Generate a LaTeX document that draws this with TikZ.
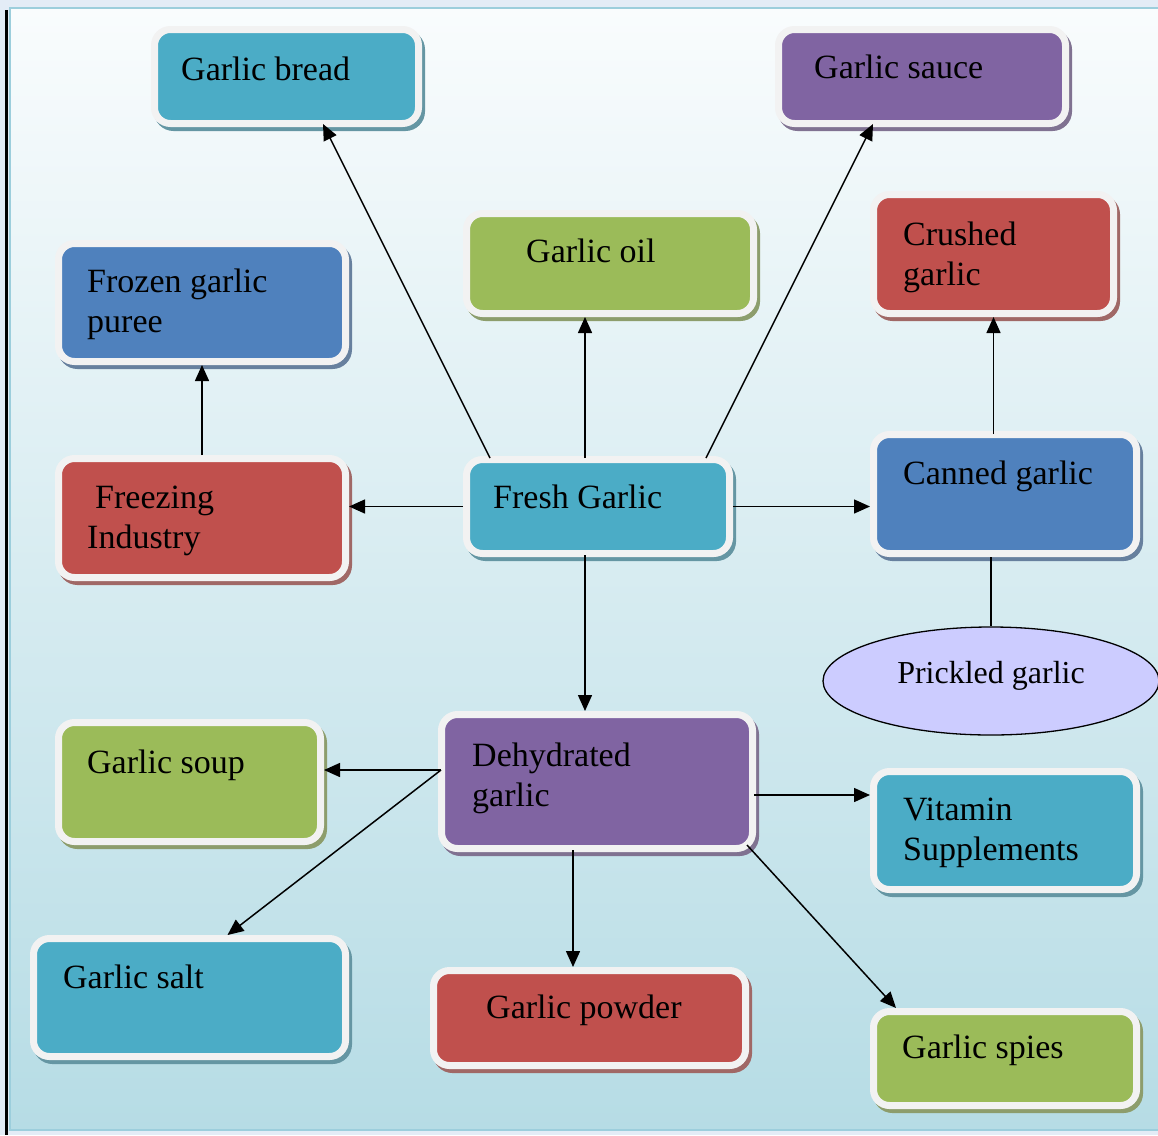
\documentclass[tikz,border=0pt]{standalone}
\usepackage{fontspec}
\setmainfont{Liberation Serif}
\usetikzlibrary{calc,arrows.meta,shapes.geometric}
\definecolor{cteal}{HTML}{4BACC6}
\definecolor{cblue}{HTML}{4F81BD}
\definecolor{cred}{HTML}{C0504D}
\definecolor{cgreen}{HTML}{9BBB59}
\definecolor{cpurple}{HTML}{8064A2}
\definecolor{cell}{HTML}{CCCCFF}
\definecolor{boxrim}{HTML}{F2F2F2}
\definecolor{bgtop}{HTML}{F9FCFD}
\definecolor{bgmid}{HTML}{E2F0F4}
\definecolor{bgbot}{HTML}{B6DCE5}
\definecolor{framec}{HTML}{9CCEDC}
\definecolor{stripc}{HTML}{E3ECF6}
\tikzset{
  gbox/.style={rectangle, rounded corners=16pt, inner sep=0pt, outer sep=3.5pt,
    fill=#1, draw=boxrim, line width=7pt,
    preaction={draw=#1!50!gray, fill=#1!50!gray, transform canvas={shift={(3pt,-4pt)}}}},
  lbl/.style={anchor=base west, inner sep=0pt, align=left,
    font=\fontsize{34}{40}\selectfont},
  conn/.style={line width=1.5pt, -{Triangle[length=16pt,width=14pt]}},
  plain/.style={line width=1.5pt},
}
\begin{document}
\begin{tikzpicture}[x=1pt,y=-1pt]
\useasboundingbox (0,0) rectangle (1158,1135);
% frame and background
\fill[stripc] (0,0) rectangle (1158,1135);
\shade[top color=bgtop, middle color=bgmid, bottom color=bgbot] (9,8) rectangle (1158,1130);
\draw[framec, line width=2pt] (9,8) -- (1158,8);
\draw[framec, line width=2pt] (9,1130) -- (1158,1130);
\draw[framec, line width=1.5pt] (10,8) -- (10,1130);
\draw[black, line width=2.5pt] (6.5,10) -- (6.5,1135);

% boxes
\node[gbox=cteal,   minimum width=264pt, minimum height=94pt]  (bread)    at (286.5,76.5) {};
\node[gbox=cpurple, minimum width=287pt, minimum height=94pt]  (sauce)    at (922,76.5) {};
\node[gbox=cgreen,  minimum width=287pt, minimum height=100pt] (oil)      at (610,263.5) {};
\node[gbox=cred,    minimum width=240pt, minimum height=119pt] (crushed)  at (993.5,254) {};
\node[gbox=cblue,   minimum width=287pt, minimum height=118pt] (frozen)   at (202,302.5) {};
\node[gbox=cred,    minimum width=287pt, minimum height=119pt] (freezing) at (202,518) {};
\node[gbox=cteal,   minimum width=263pt, minimum height=94pt]  (fresh)    at (598,506.5) {};
\node[gbox=cblue,   minimum width=263pt, minimum height=119pt] (canned)   at (1005,494) {};
\node[gbox=cgreen,  minimum width=262pt, minimum height=119pt] (soup)     at (189.5,782) {};
\node[gbox=cpurple, minimum width=311pt, minimum height=134pt] (dehyd)    at (597,781.5) {};
\node[gbox=cteal,   minimum width=263pt, minimum height=118pt] (vitamin)  at (1005,830.5) {};
\node[gbox=cteal,   minimum width=312pt, minimum height=118pt] (salt)     at (189.5,997.5) {};
\node[gbox=cred,    minimum width=312pt, minimum height=95pt]  (powder)   at (589.5,1018) {};
\node[gbox=cgreen,  minimum width=263pt, minimum height=94pt]  (spies)    at (1005,1058.5) {};
\node[ellipse, draw=black, line width=1.3pt, fill=cell, inner sep=0pt,
      minimum width=336pt, minimum height=108pt, text depth=18pt,
      font=\fontsize{32}{38}\selectfont] (pickled) at (991,681) {Prickled garlic};

% labels
\node[lbl] (tbread)    at (181,80)   {Garlic bread};
\node[lbl] (tsauce)    at (814,78)   {Garlic sauce};
\node[lbl] (toil)      at (526,262)  {Garlic oil};
\node[lbl] (tcrushed)  at (903,285)  {Crushed\\garlic};
\node[lbl] (tfrozen)   at (87,332)   {Frozen garlic\\puree};
\node[lbl] (tfreezing) at (87,548)   {\hspace*{8pt}Freezing\\Industry};
\node[lbl] (tfresh)    at (493,508)  {Fresh Garlic};
\node[lbl] (tcanned)   at (903,484)  {Canned garlic};
\node[lbl] (tsoup)     at (87,773)   {Garlic soup};
\node[lbl] (tdehyd)    at (472,806)  {Dehydrated\\garlic};
\node[lbl] (tvitamin)  at (903,860)  {Vitamin\\Supplements};
\node[lbl] (tsalt)     at (63,988)   {Garlic salt};
\node[lbl] (tpowder)   at (486,1018) {Garlic powder};
\node[lbl] (tspies)    at (902,1058) {Garlic spies};

% connectors
\draw[conn] ($(fresh.north)+(-108,2)$) -- ($(bread.south)+(36.5,-3)$);
\draw[conn] ($(fresh.north)+(-13,2)$) coordinate (fo) -- (fo |- oil.south);
\draw[conn] ($(fresh.north)+(108,2)$) -- ($(sauce.south)+(-49,-3)$);
\draw[conn] (fresh.west) -- (fresh.west -| freezing.east);
\draw[conn] (fresh.east) -- (fresh.east -| canned.west);
\draw[conn] ($(fresh.south)+(-13,-2)$) coordinate (fd) -- (fd |- dehyd.north);
\draw[conn] (freezing.north) -- (frozen.south);
\draw[conn] ($(canned.north -| crushed.south)+(0,3)$) coordinate (cc) -- (cc |- crushed.south);
\draw[plain] (canned.south -| pickled.north) -- (pickled.north);
\draw[conn] ($(dehyd.west)+(3,-11.5)$) coordinate (dw) -- (dw -| soup.east);
\draw[conn] (dw) -- ($(salt.north)+(38,0)$);
\draw[conn] ($(dehyd.east)+(-2,13.5)$) coordinate (de) -- (de -| vitamin.west);
\draw[conn] ($(dehyd.south)+(-24,-2)$) coordinate (dp) -- (dp |- powder.north);
\draw[conn] ($(dehyd.south east)+(-9,-7)$) -- ($(spies.north west)+(26,0)$);
\end{tikzpicture}
\end{document}
